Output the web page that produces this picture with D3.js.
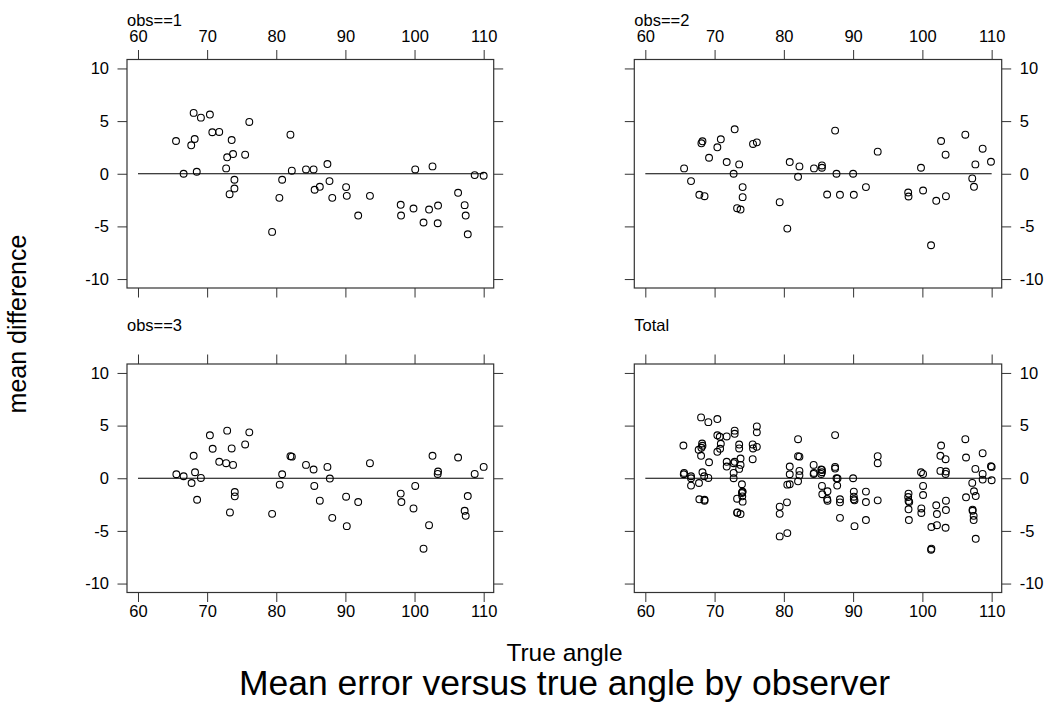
<!DOCTYPE html>
<html>
<head>
<meta charset="utf-8">
<script src="https://cdn.jsdelivr.net/npm/d3@7"></script>
<style>
  html, body { margin: 0; padding: 0; background: #fff; }
  svg { display: block; }
  text { font-family: "Liberation Sans", Arial, Helvetica, sans-serif; fill: #000; }
</style>
</head>
<body>
<svg id="chart" width="1052" height="702"></svg>
<script>
// ---------------- data ----------------
const panelTitles = ["obs==1", "obs==2", "obs==3", "Total"];
const xTicks = [60, 70, 80, 90, 100, 110];
const yTicks = [-10, -5, 0, 5, 10];
const xTickLabels = ["60", "70", "80", "90", "100", "110"];
const yTickLabels = ["-10", "-5", "0", "5", "10"];

const obs1Angle = [65.5, 66.6, 68.05, 67.7, 68.2, 68.5, 69.1, 70.4, 70.75, 71.75,
  73.55, 72.9, 73.75, 72.75, 73.95, 73.95, 73.25, 75.5, 76.1, 79.4,
  80.45, 80.85, 82.05, 82.25, 84.3, 85.4, 87.4, 85.55, 86.3, 87.7,
  88.1, 90.1, 90.2, 91.85, 93.55, 98.0, 98.05, 100.1, 99.85, 101.3,
  102.1, 102.6, 103.4, 103.35, 106.3, 107.25, 107.4, 107.7, 108.7, 110.0];
const obs1Diff = [3.11, 0.0, 5.78, 2.7, 3.3, 0.19, 5.33, 5.62, 3.94, 3.97,
  3.2, 1.56, 1.87, 0.51, -0.57, -1.40, -1.94, 1.81, 4.92, -5.52,
  -2.29, -0.57, 3.71, 0.29, 0.41, 0.41, 0.92, -1.52, -1.24, -0.70,
  -2.29, -1.27, -2.10, -3.97, -2.10, -2.95, -3.97, 0.41, -3.30, -4.63,
  -3.40, 0.70, -3.02, -4.70, -1.81, -2.98, -3.97, -5.75, -0.13, -0.19];

const obs2Angle = [65.6, 66.6, 68.1, 68.25, 67.8, 68.55, 69.2, 70.4, 70.9, 71.75,
  72.9, 72.75, 73.55, 74.05, 74.05, 73.25, 73.75, 75.55, 76.1, 79.4,
  80.5, 80.85, 82.25, 82.05, 84.35, 85.5, 85.5, 87.4, 87.6, 90.0,
  86.25, 88.1, 90.1, 91.85, 93.55, 97.95, 98.0, 99.8, 100.1, 101.25,
  102.0, 102.7, 103.35, 103.4, 106.2, 107.2, 107.45, 107.65, 108.7, 109.9];
const obs2Diff = [0.51, -0.70, 2.89, 3.08, -2.0, -2.13, 1.52, 2.51, 3.27, 1.11,
  4.22, 0.0, 0.89, -1.27, -2.22, -3.27, -3.40, 2.83, 2.98, -2.70,
  -5.21, 1.11, 0.70, -0.29, 0.51, 0.79, 0.57, 4.10, 0.0, 0.0,
  -1.97, -2.0, -2.0, -1.27, 2.10, -1.78, -2.16, 0.57, -1.59, -6.79,
  -2.57, 3.11, 1.81, -2.13, 3.71, -0.44, -1.24, 0.89, 2.38, 1.14];

const obs3Angle = [65.55, 66.6, 67.75, 68.05, 68.25, 68.55, 69.1, 70.4, 70.8, 71.75,
  72.75, 73.75, 72.9, 73.55, 74.0, 74.0, 73.3, 75.5, 76.1, 79.4,
  80.5, 80.85, 82.05, 82.25, 84.3, 85.4, 85.5, 87.4, 86.3, 87.75,
  88.1, 90.1, 90.2, 91.85, 93.55, 98.0, 98.1, 100.1, 99.85, 101.3,
  102.1, 102.6, 103.4, 103.35, 106.3, 107.7, 107.25, 107.4, 108.7, 110.0];
const obs3Diff = [0.38, 0.19, -0.45, 2.13, 0.57, -2.04, 0.03, 4.08, 2.80, 1.56,
  1.43, 1.27, 4.52, 2.83, -1.31, -1.72, -3.25, 3.21, 4.36, -3.38,
  -0.61, 0.38, 2.10, 2.05, 1.27, 0.83, -0.73, 1.08, -2.13, -0.03,
  -3.76, -1.75, -4.55, -2.26, 1.43, -1.46, -2.26, -0.73, -2.87, -6.69,
  -4.46, 2.13, 0.64, 0.41, 1.97, -1.69, -3.09, -3.57, 0.41, 1.08];

// ---------------- layout ----------------
const svg = d3.select("#chart");
const colL = [127, 634.3], colR = [493.7, 1001.7];
const rowT = [59.5, 364], rowB = [288, 592.5];
const xDomain = [58.41, 111.45];
const yDomain = [-10.85, 10.85];
const tickLen = 9.5;
const lineCol = "#333";
const fontSize = 16.5;

const zip = (a, b) => a.map((v, i) => ({ x: v, y: b[i] }));
const obs1 = zip(obs1Angle, obs1Diff);
const obs2 = zip(obs2Angle, obs2Diff);
const obs3 = zip(obs3Angle, obs3Diff);
const total = obs1.concat(obs2, obs3);

const panels = [
  { title: panelTitles[0], col: 0, row: 0, data: obs1 },
  { title: panelTitles[1], col: 1, row: 0, data: obs2 },
  { title: panelTitles[2], col: 0, row: 1, data: obs3 },
  { title: panelTitles[3], col: 1, row: 1, data: total }
];

function styleAxis(g, labels) {
  g.select(".domain").remove();
  g.selectAll(".tick line").attr("stroke", lineCol).attr("stroke-width", 1);
  g.selectAll(".tick text")
    .attr("font-size", fontSize)
    .style("font-family", '"Liberation Sans", Arial, sans-serif')
    .attr("fill", "#000");
  if (!labels) g.selectAll(".tick text").remove();
}

panels.forEach(p => {
  const L = colL[p.col], R = colR[p.col], T = rowT[p.row], B = rowB[p.row];
  const x = d3.scaleLinear().domain(xDomain).range([L, R]);
  const y = d3.scaleLinear().domain(yDomain).range([B, T]);
  const g = svg.append("g");

  const xi = (i) => xTickLabels[xTicks.indexOf(i)];
  const yi = (i) => yTickLabels[yTicks.indexOf(i)];

  g.append("g").attr("transform", `translate(0,${T})`)
    .call(d3.axisTop(x).tickValues(xTicks).tickFormat(xi).tickSize(tickLen).tickPadding(8))
    .call(s => styleAxis(s, p.row === 0));
  g.append("g").attr("transform", `translate(0,${B})`)
    .call(d3.axisBottom(x).tickValues(xTicks).tickFormat(xi).tickSize(tickLen).tickPadding(3.5))
    .call(s => styleAxis(s, p.row === 1));
  g.append("g").attr("transform", `translate(${L},0)`)
    .call(d3.axisLeft(y).tickValues(yTicks).tickFormat(yi).tickSize(tickLen).tickPadding(8.5))
    .call(s => styleAxis(s, p.col === 0));
  g.append("g").attr("transform", `translate(${R},0)`)
    .call(d3.axisRight(y).tickValues(yTicks).tickFormat(yi).tickSize(tickLen).tickPadding(8.5))
    .call(s => styleAxis(s, p.col === 1));

  // frame
  g.append("rect")
    .attr("x", L).attr("y", T).attr("width", R - L).attr("height", B - T)
    .attr("fill", "none").attr("stroke", lineCol).attr("stroke-width", 1.2);

  // zero reference line
  g.append("line")
    .attr("x1", x(60)).attr("x2", x(110)).attr("y1", y(0)).attr("y2", y(0))
    .attr("stroke", "#000").attr("stroke-width", 1.2);

  // points
  g.append("g").selectAll("circle").data(p.data).join("circle")
    .attr("cx", d => x(d.x)).attr("cy", d => y(d.y)).attr("r", 3.4)
    .attr("fill", "none").attr("stroke", "#000").attr("stroke-width", 1.1);

  // strip title
  g.append("text").attr("x", L).attr("y", T - 33.5)
    .attr("font-size", fontSize).text(p.title);
});

// axis titles and main title
svg.append("text")
  .attr("transform", "translate(26,324) rotate(-90)")
  .attr("text-anchor", "middle").attr("font-size", 25)
  .text("mean difference");

svg.append("text")
  .attr("x", 564.5).attr("y", 661)
  .attr("text-anchor", "middle").attr("font-size", 24.5)
  .text("True angle");

svg.append("text")
  .attr("x", 564.5).attr("y", 695)
  .attr("text-anchor", "middle").attr("font-size", 35.5)
  .text("Mean error versus true angle by observer");
</script>
</body>
</html>
